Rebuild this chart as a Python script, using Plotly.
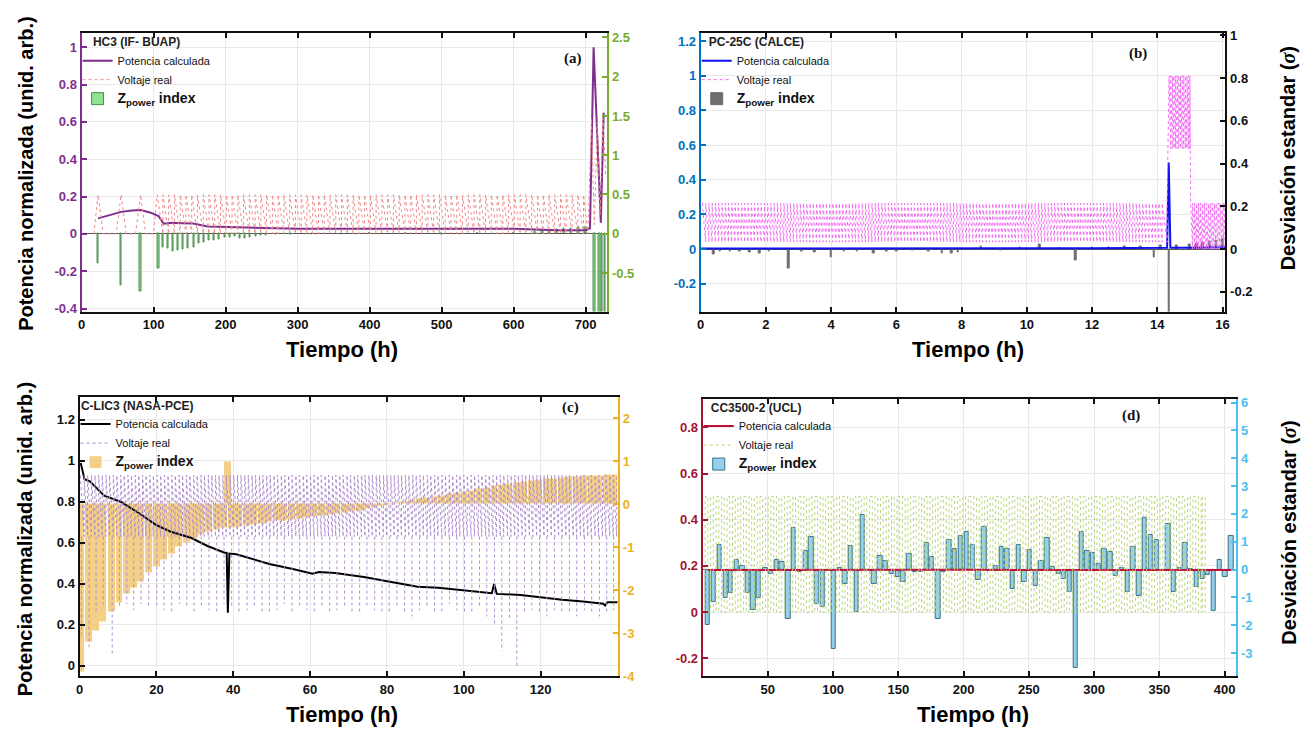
import plotly.graph_objects as go

W, H = 1310, 738
FONT = "Liberation Sans, Arial, sans-serif"
NARROW = "Liberation Sans Narrow, Arial Narrow, Liberation Sans, sans-serif"
SERIF = "Liberation Serif, Times New Roman, serif"
GRID = "#E9E9E9"
NB = "\u00a0"

# ---------------- (a) HC3 (IF- BUAP) ----------------
a_pot_t = [23, 40, 55, 70, 82, 95, 107, 114, 125, 140, 155, 165, 175, 190, 210, 240, 270, 300,
           350, 400, 450, 500, 530, 560, 600, 620, 640, 660, 700, 706, 711, 721, 725]
a_pot_v = [0.083, 0.10, 0.118, 0.125, 0.128, 0.115, 0.095, 0.055, 0.06, 0.057, 0.055, 0.048, 0.04,
           0.038, 0.035, 0.032, 0.03, 0.028, 0.027, 0.027, 0.027, 0.028, 0.03, 0.028, 0.028, 0.024,
           0.02, 0.019, 0.02, 0.03, 1.0, 0.06, 0.65]
a_volt_pre_t = [17, 23, 30, 48, 55, 62, 75, 82, 89, 100]
a_volt_pre_v = [0, 0.21, 0, 0, 0.21, 0, 0, 0.21, 0, 0]
a_volt_cyc = [105, 113, 121, 129, 137, 145, 153, 161, 169, 177, 185, 193, 201, 209, 217, 225, 233,
              241, 249, 257, 265, 273, 281, 289, 297, 305, 313, 321, 329, 337, 345, 353, 361, 369,
              377, 385, 393, 401, 409, 417, 425, 433, 441, 449, 457, 465, 473, 481, 489, 497, 505,
              513, 521, 529, 537, 545, 553, 561, 569, 577, 585, 593, 601, 609, 617, 625, 633, 641,
              649, 657, 665, 673, 681, 689, 697]
a_volt_hi, a_volt_lo = 0.21, 0.0
a_volt_post_t = [703, 708, 712, 716, 720, 724, 728]
a_volt_post_v = [0.0, 0.62, 0.05, 0.6, 0.1, 0.62, 0.3]
a_z_t = [23, 55, 82, 107, 113, 120, 127, 134, 141, 148, 156, 163, 170, 177, 184, 191, 199, 206,
         213, 220, 227, 234, 242, 249, 256, 270, 290, 320, 360, 400, 450, 500, 550, 600, 630, 640,
         650, 660, 670, 680, 690, 700, 712, 719, 723, 727]
a_z_v = [-0.38, -0.66, -0.73, -0.44, -0.18, -0.185, -0.22, -0.21, -0.2, -0.185, -0.17, -0.13,
         -0.115, -0.086, -0.086, -0.074, -0.053, -0.045, -0.04, -0.066, -0.06, -0.045, -0.033,
         -0.025, -0.02, -0.015, -0.01, -0.008, -0.006, 0.005, 0.006, -0.005, 0.006, 0.008, 0.03,
         0.04, 0.05, 0.06, 0.07, 0.07, 0.075, 0.08, -1.2, -1.2, -1.2, -1.2]
a_x_ticks = [0, 100, 200, 300, 400, 500, 600, 700]
a_yl_ticks = [-0.4, -0.2, 0, 0.2, 0.4, 0.6, 0.8, 1]
a_yl_text = ["-0.4", "-0.2", "0", "0.2", "0.4", "0.6", "0.8", "1"]
a_yr_ticks = [-1, -0.5, 0, 0.5, 1, 1.5, 2, 2.5]
a_yr_text = ["-1", "-0.5", "0", "0.5", "1", "1.5", "2", "2.5"]

# ---------------- (b) PC-25C (CALCE) ----------------
b_pot_t = [0, 2, 4, 6, 8, 10, 12, 13, 14, 14.3, 14.35, 14.4, 15, 15.5, 16.1]
b_pot_v = [0.004, 0.005, 0.005, 0.004, 0.005, 0.005, 0.005, 0.006, 0.007, 0.008, 0.5, 0.008,
           0.008, 0.009, 0.01]
b_volt_cyc1 = [0.05, 0.15, 0.25, 0.35, 0.45, 0.55, 0.65, 0.75, 0.85, 0.95, 1.05, 1.15, 1.25, 1.35,
               1.45, 1.55, 1.65, 1.75, 1.85, 1.95, 2.05, 2.15, 2.25, 2.35, 2.45, 2.55, 2.65, 2.75,
               2.85, 2.95, 3.05, 3.15, 3.25, 3.35, 3.45, 3.55, 3.65, 3.75, 3.85, 3.95, 4.05, 4.15,
               4.25, 4.35, 4.45, 4.55, 4.65, 4.75, 4.85, 4.95, 5.05, 5.15, 5.25, 5.35, 5.45, 5.55,
               5.65, 5.75, 5.85, 5.95, 6.05, 6.15, 6.25, 6.35, 6.45, 6.55, 6.65, 6.75, 6.85, 6.95,
               7.05, 7.15, 7.25, 7.35, 7.45, 7.55, 7.65, 7.75, 7.85, 7.95, 8.05, 8.15, 8.25, 8.35,
               8.45, 8.55, 8.65, 8.75, 8.85, 8.95, 9.05, 9.15, 9.25, 9.35, 9.45, 9.55, 9.65, 9.75,
               9.85, 9.95, 10.05, 10.15, 10.25, 10.35, 10.45, 10.55, 10.65, 10.75, 10.85, 10.95,
               11.05, 11.15, 11.25, 11.35, 11.45, 11.55, 11.65, 11.75, 11.85, 11.95, 12.05, 12.15,
               12.25, 12.35, 12.45, 12.55, 12.65, 12.75, 12.85, 12.95, 13.05, 13.15, 13.25, 13.35,
               13.45, 13.55, 13.65, 13.75, 13.85, 13.95, 14.05, 14.15, 14.3]
b_volt_hi1, b_volt_lo1 = 0.265, 0.04
b_volt_cyc2 = [14.36, 14.41, 14.46, 14.51, 14.56, 14.61, 14.66, 14.71, 14.76, 14.81, 14.86, 14.91,
               14.96, 15.0]
b_volt_hi2, b_volt_lo2 = 1.0, 0.58
b_volt_cyc3 = [15.02, 15.08, 15.14, 15.20, 15.26, 15.32, 15.38, 15.44, 15.50, 15.56, 15.62, 15.68,
               15.74, 15.80, 15.86, 15.92, 15.98, 16.04, 16.09]
b_volt_hi3, b_volt_lo3 = 0.265, 0.0
b_z_t = [0.4, 0.6, 0.9, 1.2, 1.5, 1.8, 2.1, 2.7, 3.1, 3.5, 4.0, 4.4, 4.8, 5.3, 5.7, 6.0, 6.5, 7.0,
         7.4, 7.7, 7.9, 8.6, 9.2, 9.8, 10.4, 11.0, 11.5, 12.0, 12.5, 13.0, 13.5, 13.9, 14.1, 14.37,
         14.6, 15.0, 15.2, 15.4, 15.6, 15.8, 16.0]
b_z_v = [-0.025, -0.01, -0.01, -0.012, -0.015, -0.02, -0.01, -0.09, -0.01, -0.015, -0.04, -0.01,
         -0.012, -0.02, -0.01, -0.01, -0.008, -0.01, -0.02, -0.02, -0.015, 0.012, -0.005, 0.006,
         0.02, 0.005, -0.055, 0.006, 0.008, 0.01, 0.012, -0.04, 0.015, -0.35, 0.018, 0.02, 0.025,
         0.03, 0.035, 0.04, 0.045]
b_x_ticks = [0, 2, 4, 6, 8, 10, 12, 14, 16]
b_yl_ticks = [-0.2, 0, 0.2, 0.4, 0.6, 0.8, 1, 1.2]
b_yl_text = ["-0.2", "0", "0.2", "0.4", "0.6", "0.8", "1", "1.2"]
b_yr_ticks = [-0.2, 0, 0.2, 0.4, 0.6, 0.8, 1]
b_yr_text = ["-0.2", "0", "0.2", "0.4", "0.6", "0.8", "1"]

# ---------------- (c) C-LIC3 (NASA-PCE) ----------------
c_pot_t = [0.3, 1.3, 2.7, 6.4, 10.7, 15, 19.9, 23.6, 29, 33.3, 37.6, 38.3, 38.6, 39.0, 40.8, 45,
           49.4, 55.8, 60.6, 62.3, 66.5, 74, 80.5, 88, 93.4, 98.7, 104, 107.3, 107.9, 108.6, 114.8,
           120.2, 125.6, 131, 136.3, 136.8, 137.4, 140]
c_pot_v = [0.99, 0.91, 0.9, 0.83, 0.8, 0.75, 0.687, 0.655, 0.624, 0.584, 0.552, 0.55, 0.258, 0.547,
           0.544, 0.52, 0.496, 0.47, 0.449, 0.457, 0.452, 0.433, 0.409, 0.385, 0.38, 0.369, 0.361,
           0.353, 0.398, 0.35, 0.345, 0.333, 0.321, 0.313, 0.302, 0.293, 0.309, 0.309]
# shallow discharge cycles (top -> knee band)
c_band_t = [0.2, 1.2, 2.1, 3.1, 4.0, 5.0, 5.9, 6.9, 7.8, 8.8, 9.7, 10.7, 11.6, 12.6, 13.5, 14.5,
            15.4, 16.4, 17.3, 18.3, 19.2, 20.2, 21.1, 22.1, 23.0, 24.0, 24.9, 25.9, 26.8, 27.8,
            28.7, 29.7, 30.6, 31.6, 32.5, 33.5, 34.4, 35.4, 36.3, 37.3, 38.2, 39.2, 40.1, 41.1,
            42.0, 43.0, 43.9, 44.9, 45.8, 46.8, 47.7, 48.7, 49.6, 50.6, 51.5, 52.5, 53.4, 54.4,
            55.3, 56.3, 57.2, 58.2, 59.1, 60.1, 61.0, 62.0, 62.9, 63.9, 64.8, 65.8, 66.7, 67.7,
            68.6, 69.6, 70.5, 71.5, 72.4, 73.4, 74.3, 75.3, 76.2, 77.2, 78.1, 79.1, 80.0, 81.0,
            81.9, 82.9, 83.8, 84.8, 85.7, 86.7, 87.6, 88.6, 89.5, 90.5, 91.4, 92.4, 93.3, 94.3,
            95.2, 96.2, 97.1, 98.1, 99.0, 100.0, 100.9, 101.9, 102.8, 103.8, 104.7, 105.7, 106.6,
            107.6, 108.5, 109.5, 110.4, 111.4, 112.3, 113.3, 114.2, 115.2, 116.1, 117.1, 118.0,
            119.0, 119.9, 120.9, 121.8, 122.8, 123.7, 124.7, 125.6, 126.6, 127.5, 128.5, 129.4,
            130.4, 131.3, 132.3, 133.2, 134.2, 135.1, 136.1, 137.0, 138.0, 138.9, 139.8]
c_volt_top, c_volt_knee = 0.93, 0.63
# deep discharge dips (knee -> minimum)
c_cyc_t = [0.5, 2.5, 4.3, 6.2, 8.5, 10.4, 12.3, 14.1, 16.0, 18.0, 20.1, 22.0, 24.0, 26.0, 27.9,
           29.8, 31.7, 33.7, 35.7, 37.6, 39.6, 41.5, 43.6, 45.5, 47.5, 49.4, 51.4, 53.3, 55.3, 57.3,
           59.2, 61.1, 63.1, 65.1, 67.0, 69.0, 70.9, 72.9, 74.8, 76.8, 78.7, 80.6, 82.6, 84.6, 86.5,
           88.5, 90.4, 92.4, 94.3, 96.3, 98.2, 100.2, 102.1, 104.1, 106.0, 108.0, 109.9, 111.9,
           113.8, 115.8, 117.7, 119.7, 121.6, 123.6, 125.5, 127.5, 129.4, 131.4, 133.3, 135.3,
           137.2, 139.0]
c_cyc_min = [0.15, 0.09, 0.25, 0.3, 0.06, 0.28, 0.3, 0.27, 0.3, 0.28,
             0.29, 0.27, 0.26, 0.3, 0.28, 0.26, 0.29, 0.27, 0.26, 0.3,
             0.28, 0.26, 0.27, 0.29, 0.26, 0.25, 0.27, 0.3, 0.26, 0.28,
             0.27, 0.25, 0.28, 0.26, 0.27, 0.29, 0.26, 0.25, 0.28, 0.27,
             0.26, 0.25, 0.29, 0.26, 0.24, 0.27, 0.28, 0.25, 0.26, 0.3,
             0.27, 0.25, 0.26, 0.28, 0.24, 0.2, 0.07, 0.22, 0.0, 0.25,
             0.27, 0.26, 0.24, 0.27, 0.25, 0.26, 0.24, 0.27, 0.25, 0.24,
             0.26, 0.27]
c_z_t = [0.5, 2.5, 4.3, 6.2, 8.5, 10.4, 12.3, 14.1, 16.0, 18.0, 20.1, 22.0, 24.0, 26.0, 27.9, 29.8,
         31.7, 33.7, 35.7, 37.6, 38.7, 39.6, 41.5, 43.6, 45.5, 47.5, 49.4, 51.4, 53.3, 55.3, 57.3,
         59.2, 61.1, 63.1, 65.1, 67.0, 69.0, 70.9, 72.9, 74.8, 76.8, 78.7, 80.6, 82.6, 84.6, 86.5,
         88.5, 90.4, 92.4, 94.3, 96.3, 98.2, 100.2, 102.1, 104.1, 106.0, 108.0, 109.9, 111.9,
         113.8, 115.8, 117.7, 119.7, 121.6, 123.6, 125.5, 127.5, 129.4, 131.4, 133.3, 135.3,
         137.2, 139.0]
c_z_v = [-3.9, -3.2, -2.95, -2.75, -2.5, -2.3, -2.1, -1.95, -1.8, -1.6,
         -1.45, -1.3, -1.15, -1.0, -0.9, -0.8, -0.72, -0.65, -0.6, -0.55,
         0.99,
         -0.55, -0.52, -0.5, -0.48, -0.45, -0.42, -0.4, -0.38, -0.36, -0.34,
         -0.33, -0.3, -0.28, -0.25, -0.22, -0.2, -0.18, -0.15, -0.12, -0.09,
         -0.05, -0.02, 0.03, 0.06, 0.09, 0.12, 0.15, 0.18, 0.2, 0.23,
         0.26, 0.29, 0.32, 0.35, 0.38, 0.42, 0.45, 0.47, 0.5, 0.52,
         0.54, 0.56, 0.58, 0.6, 0.61, 0.63, 0.64, 0.65, 0.66, 0.67,
         0.68, 0.68]
c_x_ticks = [0, 20, 40, 60, 80, 100, 120]
c_yl_ticks = [0, 0.2, 0.4, 0.6, 0.8, 1, 1.2]
c_yl_text = ["0", "0.2", "0.4", "0.6", "0.8", "1", "1.2"]
c_yr_ticks = [-4, -3, -2, -1, 0, 1, 2]
c_yr_text = ["-4", "-3", "-2", "-1", "0", "1", "2"]

# ---------------- (d) CC3500-2 (UCL) ----------------
d_pot_t = [4, 50, 100, 150, 200, 250, 300, 350, 405]
d_pot_v = [0.182, 0.183, 0.182, 0.182, 0.183, 0.182, 0.182, 0.183, 0.182]
d_cyc_t = [2.0, 6.2, 10.4, 14.6, 18.8, 23.0, 27.2, 31.4, 35.6, 39.8, 44.0, 48.2, 52.4, 56.6, 60.8,
           65.0, 69.2, 73.4, 77.6, 81.8, 86.0, 90.2, 94.4, 98.6, 102.8, 107.0, 111.2, 115.4,
           119.6, 123.8, 128.0, 132.2, 136.4, 140.6, 144.8, 149.0, 153.2, 157.4, 161.6, 165.8,
           170.0, 174.2, 178.4, 182.6, 186.8, 191.0, 195.2, 199.4, 203.6, 207.8, 212.0, 216.2,
           220.4, 224.6, 228.8, 233.0, 237.2, 241.4, 245.6, 249.8, 254.0, 258.2, 262.4, 266.6,
           270.8, 275.0, 279.2, 283.4, 287.6, 291.8, 296.0, 300.2, 304.4, 308.6, 312.8, 317.0,
           321.2, 325.4, 329.6, 333.8, 338.0, 342.2, 346.4, 350.6, 354.8, 359.0, 363.2, 367.4,
           371.6, 375.8, 380.0, 383.0]
d_volt_half = 2.1
d_volt_hi, d_volt_lo = 0.5, 0.0
d_z_t = [4, 8.7, 13.2, 17.6, 21.7, 26.2, 30.3, 34.8, 38.9, 43.3,
         48, 52.2, 57, 61.1, 65.6, 70, 74.5, 79.2, 83.3, 87.5,
         91.9, 96, 100.5, 105, 109.4, 113.8, 118.3, 122.7, 127.2, 131.6,
         136.1, 140.5, 145, 149.4, 153.8, 158.3, 162.7, 167.2, 171.6, 175.8,
         180.5, 185, 189.1, 193.5, 198, 202.4, 206.9, 211.3, 215.8, 220.2,
         224.7, 229.1, 233.5, 237.7, 242.1, 246.6, 250.7, 255.1, 259.6, 264,
         268.5, 272.9, 277, 281.5, 285.9, 290.4, 294.8, 299, 303.4, 307.9,
         312.3, 316.7, 321.2, 325.6, 330.1, 334.5, 339, 343.4, 347.9, 352.3,
         356.8, 361.2, 365.7, 369.8, 374.2, 378.7, 383.1, 387.3, 391.7, 396.2,
         400.6, 405]
d_z_v = [-1.98, -1.17, 0.88, -1.0, -0.85, 0.35, 0.14, -0.82, -1.46, -1.0,
         0.06, -0.16, 0.33, 0.27, -1.76, 1.5, -0.08, 0.68, 1.19, -1.22,
         -1.34, 0.0, -2.84, 0.07, -0.53, 0.86, -1.53, 1.97, -0.02, -0.53,
         0.49, 0.31, -0.14, -0.26, -0.43, 0.56, -0.08, -0.08, 0.97, 0.45,
         -1.76, -0.08, 1.07, 0.74, 1.21, 1.36, 0.88, -0.38, 1.54, -0.05,
         0.14, 0.82, 0.75, -0.7, 0.88, -0.46, 0.72, -0.59, 0.31, 1.12,
         0.08, -0.14, -0.35, -0.79, -3.52, 1.35, 0.68, 0.6, 0.21, 0.76,
         0.62, -0.22, 0.07, -0.79, 0.82, -0.96, 1.85, 1.23, 1.06, -0.06,
         1.64, -0.79, 0.07, 0.97, 0.04, -0.63, -0.32, -0.18, -1.49, 0.33,
         -0.26, 1.21]
d_x_ticks = [50, 100, 150, 200, 250, 300, 350, 400]
d_yl_ticks = [-0.2, 0, 0.2, 0.4, 0.6, 0.8]
d_yl_text = ["-0.2", "0", "0.2", "0.4", "0.6", "0.8"]
d_yr_ticks = [-3, -2, -1, 0, 1, 2, 3, 4, 5, 6]
d_yr_text = ["-3", "-2", "-1", "0", "1", "2", "3", "4", "5", "6"]

for a, b in [(a_pot_t, a_pot_v), (a_volt_pre_t, a_volt_pre_v), (a_volt_post_t, a_volt_post_v),
             (a_z_t, a_z_v), (b_pot_t, b_pot_v), (b_z_t, b_z_v), (c_pot_t, c_pot_v),
             (c_cyc_t, c_cyc_min), (c_z_t, c_z_v), (d_pot_t, d_pot_v), (d_z_t, d_z_v)]:
    assert len(a) == len(b), (len(a), len(b))


# ---------- helpers that turn the read cycle lists into polyline vertices ----------
def saw(times, hi, lo):
    xs, ys = [], []
    for i, t in enumerate(times):
        xs.append(t); ys.append(hi)
        if i + 1 < len(times):
            xs.append(times[i + 1]); ys.append(lo)
    return xs, ys


def dips(times, mins, knee):
    xs, ys = [], []
    for t, m in zip(times, mins):
        xs += [t, t, None]
        ys += [knee, m, None]
    return xs, ys


def square(times, half, hi, lo):
    xs, ys = [], []
    for t in times:
        xs += [t, t, t + half, t + half]
        ys += [lo, hi, hi, lo]
    return xs, ys


a_vx, a_vy = saw(a_volt_cyc, a_volt_hi, a_volt_lo)
a_vx = a_volt_pre_t + a_vx + a_volt_post_t
a_vy = a_volt_pre_v + a_vy + a_volt_post_v
b1x, b1y = saw(b_volt_cyc1, b_volt_hi1, b_volt_lo1)
b2x, b2y = saw(b_volt_cyc2, b_volt_hi2, b_volt_lo2)
b3x, b3y = saw(b_volt_cyc3, b_volt_hi3, b_volt_lo3)
b_vx, b_vy = b1x + b2x + b3x, b1y + b2y + b3y
c_vx, c_vy = saw(c_band_t, c_volt_top, c_volt_knee)
c_dx, c_dy = dips(c_cyc_t, c_cyc_min, c_volt_knee)
d_vx, d_vy = square(d_cyc_t, d_volt_half, d_volt_hi, d_volt_lo)

fig = go.Figure()

ZNAME = '<span style="font-size:14px"><b>Z<sub>power</sub> index</b></span>'


def add_panel(xa, yr, yl, leg, pot, pot_col, volt, volt_col, z, zfill, zline, zwidth, zop=1.0,
              extra=None):
    fig.add_trace(go.Scatter(x=pot[0], y=pot[1], mode="lines", name="Potencia calculada",
                             line=dict(color=pot_col, width=2), xaxis=xa, yaxis=yl, legend=leg))
    fig.add_trace(go.Scatter(x=volt[0], y=volt[1], mode="lines", name="Voltaje real",
                             line=dict(color=volt_col, width=1, dash="dot"),
                             xaxis=xa, yaxis=yl, legend=leg))
    if extra is not None:
        fig.add_trace(go.Scatter(x=extra[0], y=extra[1], mode="lines", name="Voltaje real",
                                 showlegend=False, line=dict(color=volt_col, width=1, dash="dot"),
                                 xaxis=xa, yaxis=yl, legend=leg))
    fig.add_trace(go.Bar(x=z[0], y=z[1], name=ZNAME, width=zwidth, opacity=zop,
                         marker=dict(color=zfill, line=dict(color=zline, width=1)),
                         xaxis=xa, yaxis=yr, legend=leg))


add_panel("x", "y", "y2", "legend", (a_pot_t, a_pot_v), "#7E2F8E", (a_vx, a_vy), "#EE8A8A",
          (a_z_t, a_z_v), "#8FE38F", "#4D8B4D", 2.0)
add_panel("x2", "y3", "y4", "legend2", (b_pot_t, b_pot_v), "#1010F0", (b_vx, b_vy), "#F26AF2",
          (b_z_t, b_z_v), "#6E6E6E", "#6E6E6E", 0.05)
add_panel("x3", "y5", "y6", "legend3", (c_pot_t, c_pot_v), "#000000", (c_vx, c_vy), "#AE8BCF",
          (c_z_t, c_z_v), "#F2C46A", "rgba(0,0,0,0)", 1.8, 0.8, extra=(c_dx, c_dy))
add_panel("x4", "y7", "y8", "legend4", (d_pot_t, d_pot_v), "#C0103A", (d_vx, d_vy), "#B9D47A",
          (d_z_t, d_z_v), "#92D2EC", "#3B6E86", 3.3)


def dom_x(l, r):
    return [l / W, r / W]


def dom_y(top, bot):
    return [1 - bot / H, 1 - top / H]


def xax(dom, anchor, rng, ticks):
    return dict(domain=dom, anchor=anchor, range=rng, tickvals=ticks,
                ticktext=[str(t) for t in ticks], showline=True, linecolor="#111",
                linewidth=2, mirror="ticks", ticks="inside", ticklen=5, tickwidth=1.5,
                tickcolor="#111", showgrid=True, gridcolor=GRID, gridwidth=1, zeroline=False,
                tickfont=dict(family=FONT, size=13, color="#111", weight="bold"))


def yax(dom, anchor, rng, ticks, text, col, side, overlay=None, grid=False, zero=False):
    d = dict(domain=dom, anchor=anchor, range=rng, tickvals=ticks, ticktext=text, side=side,
             showline=True, linecolor=col, linewidth=2, ticks="inside", ticklen=5,
             tickwidth=1.5, tickcolor=col, showgrid=grid, gridcolor=GRID, gridwidth=1,
             zeroline=zero, zerolinecolor="#555", zerolinewidth=1,
             tickfont=dict(family=FONT, size=13, color=col, weight="bold"))
    if overlay:
        d["overlaying"] = overlay
    return d


PA = dict(x=dom_x(78, 607), y=dom_y(29, 312))
PB = dict(x=dom_x(701, 1229), y=dom_y(29, 312))
PC = dict(x=dom_x(76, 618), y=dom_y(399, 683))
PD = dict(x=dom_x(703, 1240), y=dom_y(401, 683))

fig.update_layout(
    xaxis=xax(PA["x"], "y", [0, 730], a_x_ticks),
    yaxis=yax(PA["y"], "x", [-0.99, 2.55], a_yr_ticks, a_yr_text, "#77AC30", "right", zero=True),
    yaxis2=yax(PA["y"], "x", [-0.416, 1.074], a_yl_ticks, a_yl_text, "#7E2F8E", "left", "y", grid=True),
    xaxis2=xax(PB["x"], "y3", [0, 16.09], b_x_ticks),
    yaxis3=yax(PB["y"], "x2", [-0.292, 1.009], b_yr_ticks, b_yr_text, "#111111", "right", zero=True),
    yaxis4=yax(PB["y"], "x2", [-0.36, 1.244], b_yl_ticks, b_yl_text, "#0072BD", "left", "y3", grid=True),
    xaxis3=xax(PC["x"], "y5", [0, 140.2], c_x_ticks),
    yaxis5=yax(PC["y"], "x3", [-4, 2.5], c_yr_ticks, c_yr_text, "#EDB120", "right"),
    yaxis6=yax(PC["y"], "x3", [-0.051, 1.312], c_yl_ticks, c_yl_text, "#111111", "left", "y5", grid=True),
    xaxis4=xax(PD["x"], "y7", [0.15, 409.1], d_x_ticks),
    yaxis7=yax(PD["y"], "x4", [-3.82, 6.13], d_yr_ticks, d_yr_text, "#4DBEEE", "right", zero=True),
    yaxis8=yax(PD["y"], "x4", [-0.277, 0.923], d_yl_ticks, d_yl_text, "#A2142F", "left", "y7", grid=True),
)


def legend(x_px, y_px, title, pad):
    return dict(x=x_px / W, y=1 - y_px / H, xanchor="left", yanchor="top",
                bgcolor="rgba(255,255,255,0)", borderwidth=0, tracegroupgap=0,
                itemwidth=30, traceorder="normal",
                font=dict(family=NARROW, size=11, color="#111"),
                title=dict(text=NB * pad + "<b>" + title + "</b>",
                           font=dict(family=FONT, size=12, color="#222")))


fig.update_layout(
    legend=legend(74, 26, "HC3 (IF- BUAP)", 4),
    legend2=legend(697, 26, "PC-25C (CALCE)", 3),
    legend3=legend(72, 396, "C-LIC3 (NASA-PCE)", 1),
    legend4=legend(699, 398, "CC3500-2 (UCL)", 3),
)

ann = []
YT = "Potencia normalizada (unid. arb.)"
RT = 'Desviación estandar (<span style="font-family:Liberation Serif"><i>σ</i></span>)'
for (x, y, t) in [(22, 171, YT), (22, 543, YT), (1292, 156, RT), (1292, 537, RT)]:
    ann.append(dict(x=x / W, y=1 - y / H, xref="paper", yref="paper", text="<b>" + t + "</b>",
                    textangle=-90, showarrow=False, xanchor="center", yanchor="middle",
                    font=dict(family=FONT, size=20, color="#000")))
for (x, y) in [(340, 351), (970, 351), (340, 722), (975, 722)]:
    ann.append(dict(x=x / W, y=1 - y / H, xref="paper", yref="paper", text="<b>Tiempo (h)</b>",
                    showarrow=False, xanchor="center", yanchor="middle",
                    font=dict(family=NARROW, size=22, color="#000")))
for (x, y, t) in [(572, 54, "(a)"), (1141, 49, "(b)"), (570, 410, "(c)"), (1134, 418, "(d)")]:
    ann.append(dict(x=x / W, y=1 - y / H, xref="paper", yref="paper", text="<b>" + t + "</b>",
                    showarrow=False, xanchor="center", yanchor="middle",
                    font=dict(family=SERIF, size=15, color="#111")))

fig.update_layout(
    annotations=ann, width=W, height=H, margin=dict(l=0, r=0, t=0, b=0),
    paper_bgcolor="white", plot_bgcolor="white", barmode="overlay", bargap=0,
    font=dict(family=FONT), hovermode=False,
)

fig.write_html("out.html")
